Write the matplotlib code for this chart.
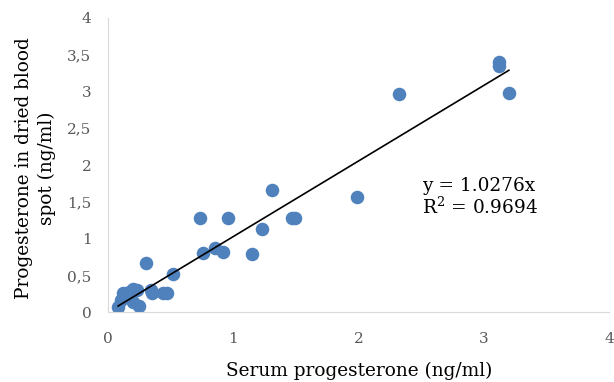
import matplotlib
matplotlib.use("Agg")
import matplotlib.pyplot as plt
import numpy as np

serum = [0.08, 0.10, 0.12, 0.17, 0.20, 0.23, 0.20, 0.25, 0.34, 0.35, 0.44, 0.47,
         0.52, 0.30, 0.73, 0.76, 0.85, 0.92, 0.96, 1.15, 1.23, 1.31, 1.47, 1.49,
         1.99, 2.32, 3.12, 3.12, 3.20]
dbs = [0.07, 0.16, 0.26, 0.27, 0.31, 0.30, 0.14, 0.08, 0.30, 0.26, 0.26, 0.26,
       0.52, 0.67, 1.28, 0.80, 0.87, 0.82, 1.28, 0.79, 1.13, 1.66, 1.28, 1.28,
       1.56, 2.97, 3.40, 3.35, 2.98]
slope = 1.0276
r2 = 0.9694
ticks = [0, 0.5, 1, 1.5, 2, 2.5, 3, 3.5, 4]
tick_labels = ["0", "0,5", "1", "1,5", "2", "2,5", "3", "3,5", "4"]
xticks = [0, 1, 2, 3, 4]

plt.rcParams['font.family'] = ['DejaVu Serif']
plt.rcParams['mathtext.fontset'] = 'dejavuserif'
fig = plt.figure(figsize=(6.14, 3.82), dpi=100)
ax = fig.add_axes([0.176, 0.183, 0.816, 0.77])
ax.scatter(serum, dbs, s=95, color='#4f81bd', zorder=2, linewidths=0)
xs = np.array([min(serum), max(serum)])
ax.plot(xs, slope * xs, color='black', lw=1.2, zorder=3)
ax.set_xlim(0, 4)
ax.set_ylim(0, 4)
ax.set_xticks(xticks)
ax.set_xticklabels([str(t) for t in xticks])
ax.set_yticks(ticks)
ax.set_yticklabels(tick_labels)
ax.tick_params(length=0, labelsize=11, colors='#595959')
ax.tick_params(axis='y', pad=12)
ax.tick_params(axis='x', pad=14)
for s in ['top', 'right']:
    ax.spines[s].set_visible(False)
for s in ['left', 'bottom']:
    ax.spines[s].set_color('#d9d9d9')
ax.set_xlabel("Serum progesterone (ng/ml)", fontsize=13.3)
ax.xaxis.set_label_coords(0.502, -0.168)
ax.set_ylabel("Progesterone in dried blood\nspot (ng/ml)", fontsize=13.3, linespacing=1.3)
ax.yaxis.set_label_coords(-0.104, 0.49)
ax.text(2.51, 1.56, f"y = {slope}x\nR$^2$ = {r2}", fontsize=13.3, va='center', ha='left', linespacing=1.05)
fig.savefig("out.png", dpi=100)
